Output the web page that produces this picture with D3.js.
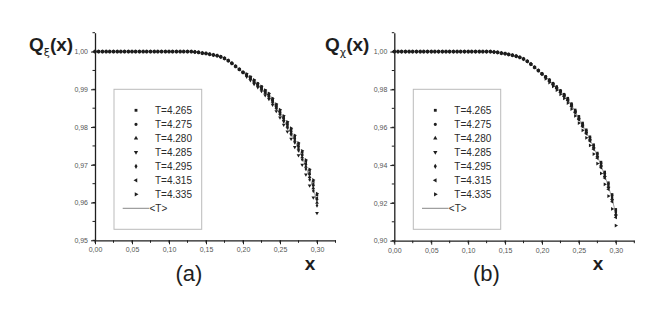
<!DOCTYPE html>
<html><head><meta charset="utf-8">
<script src="https://cdn.jsdelivr.net/npm/d3@7"></script>
<style>
html,body{margin:0;padding:0;background:#fff;}
svg{display:block;font-family:"Liberation Sans",Arial,sans-serif;}
</style>
</head><body>
<svg id="c" width="665" height="319"></svg>
<script>
// ---- data ----
const xValues = d3.range(61).map(k => +(k * 0.005).toFixed(3)); // x = 0.000 ... 0.300 (sampling grid)
const seriesNames = ["T=4.265","T=4.275","T=4.280","T=4.285","T=4.295","T=4.315","T=4.335"];
const xTickLabels = ["0,00","0,05","0,10","0,15","0,20","0,25","0,30"];
const yTickLabelsA = ["0,95","0,96","0,97","0,98","0,99","1,00"];
const yTickLabelsB = ["0,90","0,92","0,94","0,96","0,98","1,00"];

// panel (a): common head, x = 0 .. 0.200 (41 points)
const headA = [1,1,1,1,1,1,1,1,1,1,1,1,1,1,1,1,1,1,1,1,1,1,1,1,1,1,1,
  0.9999,0.9998,0.9996,0.9995,0.9993,0.9991,0.9989,0.9986,0.9982,0.9976,0.9969,0.9961,0.9953,0.9945];
// panel (a): tails, x = 0.205 .. 0.300 (20 points)
const a4265 = [0.9940,0.9933,0.9924,0.9915,0.9907,0.9897,0.9888,0.9875,0.9859,0.9844,0.9828,0.9812,0.9795,0.9776,0.9756,0.9734,0.9710,0.9685,0.9656,0.9620];
const a4275 = [0.9938,0.9930,0.9922,0.9913,0.9904,0.9894,0.9884,0.9871,0.9855,0.9839,0.9823,0.9806,0.9788,0.9769,0.9748,0.9726,0.9701,0.9675,0.9645,0.9608];
const a4280 = [0.9937,0.9929,0.9920,0.9911,0.9902,0.9892,0.9882,0.9868,0.9852,0.9836,0.9819,0.9802,0.9784,0.9764,0.9743,0.9720,0.9695,0.9668,0.9638,0.9600];
const a4285 = [0.9933,0.9924,0.9914,0.9905,0.9895,0.9884,0.9874,0.9859,0.9842,0.9825,0.9806,0.9788,0.9769,0.9747,0.9725,0.9700,0.9674,0.9645,0.9613,0.9572];
const a4295 = [0.9936,0.9928,0.9918,0.9909,0.9900,0.9890,0.9880,0.9865,0.9849,0.9833,0.9815,0.9798,0.9780,0.9759,0.9738,0.9714,0.9689,0.9661,0.9631,0.9592];
const a4315 = [0.9939,0.9931,0.9922,0.9914,0.9905,0.9895,0.9886,0.9872,0.9856,0.9841,0.9824,0.9808,0.9790,0.9771,0.9751,0.9728,0.9704,0.9678,0.9649,0.9612];
const a4335 = [0.9941,0.9933,0.9925,0.9916,0.9908,0.9898,0.9889,0.9876,0.9861,0.9846,0.9830,0.9814,0.9797,0.9778,0.9758,0.9737,0.9713,0.9688,0.9660,0.9624];
const aMean = [0.9937,0.9929,0.9920,0.9911,0.9902,0.9892,0.9882,0.9868,0.9852,0.9836,0.9819,0.9802,0.9784,0.9764,0.9743,0.9720,0.9695,0.9668,0.9638,0.9600];

// panel (b)
const headB = [1,1,1,1,1,1,1,1,1,1,1,1,1,1,1,1,1,1,1,1,1,1,1,1,1,1,1,
  0.9998,0.9996,0.9992,0.9989,0.9985,0.9981,0.9976,0.9970,0.9961,0.9949,0.9934,0.9917,0.9900,0.9882];
const b4265 = [0.9869,0.9852,0.9833,0.9815,0.9795,0.9775,0.9754,0.9725,0.9692,0.9658,0.9623,0.9587,0.9550,0.9508,0.9464,0.9416,0.9364,0.9307,0.9245,0.9166];
const b4275 = [0.9868,0.9850,0.9831,0.9813,0.9793,0.9773,0.9751,0.9722,0.9688,0.9654,0.9619,0.9583,0.9545,0.9503,0.9458,0.9410,0.9357,0.9300,0.9238,0.9157];
const b4280 = [0.9865,0.9847,0.9828,0.9809,0.9789,0.9768,0.9746,0.9716,0.9682,0.9647,0.9611,0.9574,0.9536,0.9493,0.9447,0.9398,0.9344,0.9286,0.9222,0.9140];
const b4285 = [0.9864,0.9845,0.9826,0.9807,0.9787,0.9766,0.9743,0.9713,0.9679,0.9643,0.9607,0.9570,0.9531,0.9488,0.9441,0.9392,0.9337,0.9279,0.9214,0.9131];
const b4295 = [0.9866,0.9849,0.9830,0.9811,0.9791,0.9770,0.9749,0.9719,0.9685,0.9651,0.9615,0.9578,0.9541,0.9498,0.9453,0.9404,0.9351,0.9293,0.9230,0.9149];
const b4315 = [0.9862,0.9844,0.9825,0.9805,0.9785,0.9763,0.9741,0.9710,0.9676,0.9640,0.9603,0.9565,0.9527,0.9483,0.9436,0.9386,0.9331,0.9272,0.9206,0.9123];
const b4335 = [0.9856,0.9836,0.9816,0.9796,0.9774,0.9752,0.9728,0.9696,0.9660,0.9622,0.9584,0.9544,0.9504,0.9458,0.9408,0.9356,0.9298,0.9236,0.9168,0.9080];
const bMean = [0.9865,0.9847,0.9828,0.9809,0.9789,0.9768,0.9746,0.9716,0.9682,0.9647,0.9611,0.9574,0.9536,0.9493,0.9447,0.9398,0.9344,0.9286,0.9222,0.9140];

const panelA = {
  series: [a4265,a4275,a4280,a4285,a4295,a4315,a4335].map(t => headA.concat(t)),
  mean: headA.concat(aMean),
  yDomain: [0.95, 1.005], yMajor: [0.95,0.96,0.97,0.98,0.99,1.00], yMinorStep: 0.005,
  yLabels: yTickLabelsA, sub: "ξ", tag: "(a)",
  x0: 95, x1: 335.5, yTop: 32.7, yBot: 240.3,
  legend: {x: 114, y: 89.3, w: 87.7, h: 140},
  titleX: 29, xLabX: 310, tagX: 189
};
const panelB = {
  series: [b4265,b4275,b4280,b4285,b4295,b4315,b4335].map(t => headB.concat(t)),
  mean: headB.concat(bMean),
  yDomain: [0.90, 1.01], yMajor: [0.90,0.92,0.94,0.96,0.98,1.00], yMinorStep: 0.01,
  yLabels: yTickLabelsB, sub: "χ", tag: "(b)",
  x0: 394.3, x1: 634.3, yTop: 32.7, yBot: 240.7,
  legend: {x: 413.3, y: 89.3, w: 87.4, h: 140},
  titleX: 325, xLabX: 598, tagX: 486.5
};

const symbols = [
  {t: d3.symbolSquare, r: 0},
  {t: d3.symbolCircle, r: 0},
  {t: d3.symbolTriangle, r: 0},
  {t: d3.symbolTriangle, r: 180},
  {t: d3.symbolDiamond, r: 0},
  {t: d3.symbolTriangle, r: -90},
  {t: d3.symbolTriangle, r: 90}
];

const svg = d3.select("#c");
const ink = "#1e1e1e";

function drawPanel(p) {
  const g = svg.append("g");
  const x = d3.scaleLinear().domain([0, 0.325]).range([p.x0, p.x1]);
  const y = d3.scaleLinear().domain(p.yDomain).range([p.yBot, p.yTop]);

  // minor ticks
  const xMinor = d3.range(0, 0.3251, 0.025);
  g.selectAll(".xm").data(xMinor).join("line")
    .attr("x1", d => x(d)).attr("x2", d => x(d))
    .attr("y1", p.yBot).attr("y2", p.yBot + 2.5)
    .attr("stroke", ink).attr("stroke-width", 1);
  const yMinor = d3.range(p.yDomain[0], p.yDomain[1] + 1e-9, p.yMinorStep);
  g.selectAll(".ym").data(yMinor).join("line")
    .attr("x1", p.x0 - 2.5).attr("x2", p.x0)
    .attr("y1", d => y(d)).attr("y2", d => y(d))
    .attr("stroke", ink).attr("stroke-width", 1);

  // x axis
  const xAxis = d3.axisBottom(x).tickValues([0,0.05,0.10,0.15,0.20,0.25,0.30])
    .tickFormat((d,i) => xTickLabels[i]).tickSize(4).tickPadding(3).tickSizeOuter(0);
  const gx = g.append("g").attr("transform", `translate(0,${p.yBot})`).call(xAxis);
  gx.select(".domain").attr("stroke", ink).attr("stroke-width", 1.3);
  gx.selectAll(".tick line").attr("stroke", ink);
  gx.selectAll("text").attr("font-size", 7).attr("fill", "#555").attr("font-family", "Liberation Sans, Arial, sans-serif");

  // y axis
  const yAxis = d3.axisLeft(y).tickValues(p.yMajor)
    .tickFormat((d,i) => p.yLabels[i]).tickSize(4).tickPadding(3).tickSizeOuter(0);
  const gy = g.append("g").attr("transform", `translate(${p.x0},0)`).call(yAxis);
  gy.select(".domain").attr("stroke", ink).attr("stroke-width", 1.3);
  gy.selectAll(".tick line").attr("stroke", ink);
  gy.selectAll("text").attr("font-size", 7).attr("fill", "#555").attr("font-family", "Liberation Sans, Arial, sans-serif");

  // mean line
  const line = d3.line().x((d,i) => x(xValues[i])).y(d => y(d));
  g.append("path").datum(p.mean).attr("d", line)
    .attr("fill", "none").attr("stroke", "#888").attr("stroke-width", 0.8);

  // series markers
  p.series.forEach((vals, si) => {
    const sym = d3.symbol().type(symbols[si].t).size(si === 1 ? 5.5 : 6);
    g.append("g").selectAll("path").data(vals).join("path")
      .attr("d", sym)
      .attr("transform", (d,i) => `translate(${x(xValues[i])},${y(d)}) rotate(${symbols[si].r})`)
      .attr("fill", ink);
  });

  // legend
  const L = p.legend;
  g.append("rect").attr("x", L.x).attr("y", L.y).attr("width", L.w).attr("height", L.h)
    .attr("fill", "#fff").attr("stroke", "#bbb").attr("stroke-width", 1);
  seriesNames.forEach((name, si) => {
    const cy = L.y + 21 + si * 14;
    g.append("path").attr("d", d3.symbol().type(symbols[si].t).size(8)())
      .attr("transform", `translate(${L.x + 22},${cy}) rotate(${symbols[si].r})`)
      .attr("fill", ink);
    g.append("text").attr("x", L.x + 41).attr("y", cy + 3.6)
      .attr("font-size", 10).attr("fill", "#2a2a2a").text(name);
  });
  const ly = L.y + 21 + 7 * 14;
  g.append("line").attr("x1", L.x + 8.7).attr("x2", L.x + 35.3).attr("y1", ly).attr("y2", ly)
    .attr("stroke", "#888").attr("stroke-width", 1);
  g.append("text").attr("x", L.x + 35.5).attr("y", ly + 3.6)
    .attr("font-size", 10).attr("fill", "#2a2a2a").text("<T>");

  // titles
  const t = g.append("text").attr("x", p.titleX).attr("y", 51).attr("font-size", 19)
    .attr("font-weight", "bold").attr("fill", ink);
  t.append("tspan").text("Q");
  t.append("tspan").attr("dy", 5).attr("font-size", 11).attr("font-weight", "normal")
    .attr("font-family", "DejaVu Sans, sans-serif").text(p.sub);
  t.append("tspan").attr("dy", -5).text("(x)");

  g.append("text").attr("x", p.xLabX).attr("y", 270).attr("text-anchor", "middle")
    .attr("font-size", 19).attr("font-weight", "bold").attr("fill", ink).text("x");
  g.append("text").attr("x", p.tagX).attr("y", 281).attr("text-anchor", "middle")
    .attr("font-size", 22).attr("fill", ink).text(p.tag);
}

drawPanel(panelA);
drawPanel(panelB);
</script>
</body></html>
